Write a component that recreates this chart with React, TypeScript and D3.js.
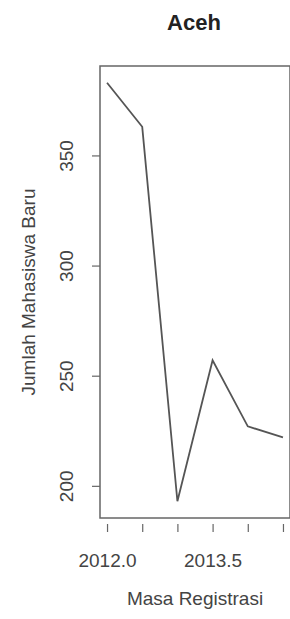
import React, { useEffect, useRef } from 'react';
import * as d3 from 'd3';

const years = [2012.0, 2012.5, 2013.0, 2013.5, 2014.0, 2014.5];
const mahasiswa = [383, 363, 193, 257, 227, 222];
const xTicks = [2012.0, 2012.5, 2013.0, 2013.5, 2014.0, 2014.5];
const xTickLabels = ['2012.0', '', '', '2013.5', '', ''];
const yTicks = [200, 250, 300, 350];

const App: React.FC = () => {
  const ref = useRef<SVGSVGElement | null>(null);

  useEffect(() => {
    const width = 290;
    const height = 619;
    const box = { left: 100, top: 66, right: 290, bottom: 518 };
    const font = '"Liberation Sans", Arial, sans-serif';
    const grey = '#555';

    const svg = d3.select(ref.current);
    svg.selectAll('*').remove();
    svg.attr('width', width).attr('height', height);

    // R style 4% padding on both axes
    const x = d3.scaleLinear().domain([2011.9, 2014.6]).range([box.left, box.right]);
    const y = d3.scaleLinear().domain([185.4, 390.6]).range([box.bottom, box.top]);

    // plot box
    svg.append('rect')
      .attr('x', box.left)
      .attr('y', box.top)
      .attr('width', box.right - box.left)
      .attr('height', box.bottom - box.top)
      .attr('fill', 'none')
      .attr('stroke', '#666')
      .attr('stroke-width', 1.5);

    // x axis
    const xAxis = d3.axisBottom(x)
      .tickValues(xTicks)
      .tickSize(8)
      .tickPadding(22)
      .tickFormat((d, i) => xTickLabels[i]);
    svg.append('g')
      .attr('transform', `translate(0,${box.bottom + 6})`)
      .call(xAxis)
      .call(g => g.select('.domain').remove())
      .call(g => g.selectAll('line').attr('stroke', '#666').attr('stroke-width', 1.2))
      .call(g => g.selectAll('text')
        .attr('fill', '#444')
        .style('font-family', font)
        .style('font-size', '19px'));

    // y axis, labels turned like R's default las=0
    const yAxis = d3.axisLeft(y).tickValues(yTicks).tickSize(8).tickFormat(d3.format('d'));
    const ya = svg.append('g')
      .attr('transform', `translate(${box.left},0)`)
      .call(yAxis)
      .call(g => g.select('.domain').remove())
      .call(g => g.selectAll('line').attr('stroke', '#666').attr('stroke-width', 1.2));
    ya.selectAll('text')
      .attr('fill', '#444')
      .style('font-family', font)
      .style('font-size', '19px')
      .attr('text-anchor', 'middle')
      .attr('dy', null)
      .attr('x', null)
      .attr('transform', `translate(${73 - box.left},0) rotate(-90)`);

    // the line
    const line = d3.line<number>()
      .x((d, i) => x(years[i]))
      .y(d => y(d));
    svg.append('path')
      .datum(mahasiswa)
      .attr('d', line)
      .attr('fill', 'none')
      .attr('stroke', grey)
      .attr('stroke-width', 1.8);

    // titles
    svg.append('text')
      .attr('x', 194)
      .attr('y', 30)
      .attr('text-anchor', 'middle')
      .attr('fill', '#222')
      .style('font-family', font)
      .style('font-weight', 'bold')
      .style('font-size', '22px')
      .text('Aceh');

    svg.append('text')
      .attr('x', 195)
      .attr('y', 605)
      .attr('text-anchor', 'middle')
      .attr('fill', '#444')
      .style('font-family', font)
      .style('font-size', '19px')
      .text('Masa Registrasi');

    svg.append('text')
      .attr('transform', `translate(35,${(box.top + box.bottom) / 2}) rotate(-90)`)
      .attr('text-anchor', 'middle')
      .attr('fill', '#444')
      .style('font-family', font)
      .style('font-size', '19px')
      .text('Jumlah Mahasiswa Baru');
  }, []);

  return (
    <div style={{ position: 'absolute', left: 0, top: 0 }}>
      <svg ref={ref} style={{ display: 'block' }} />
    </div>
  );
};

export default App;
